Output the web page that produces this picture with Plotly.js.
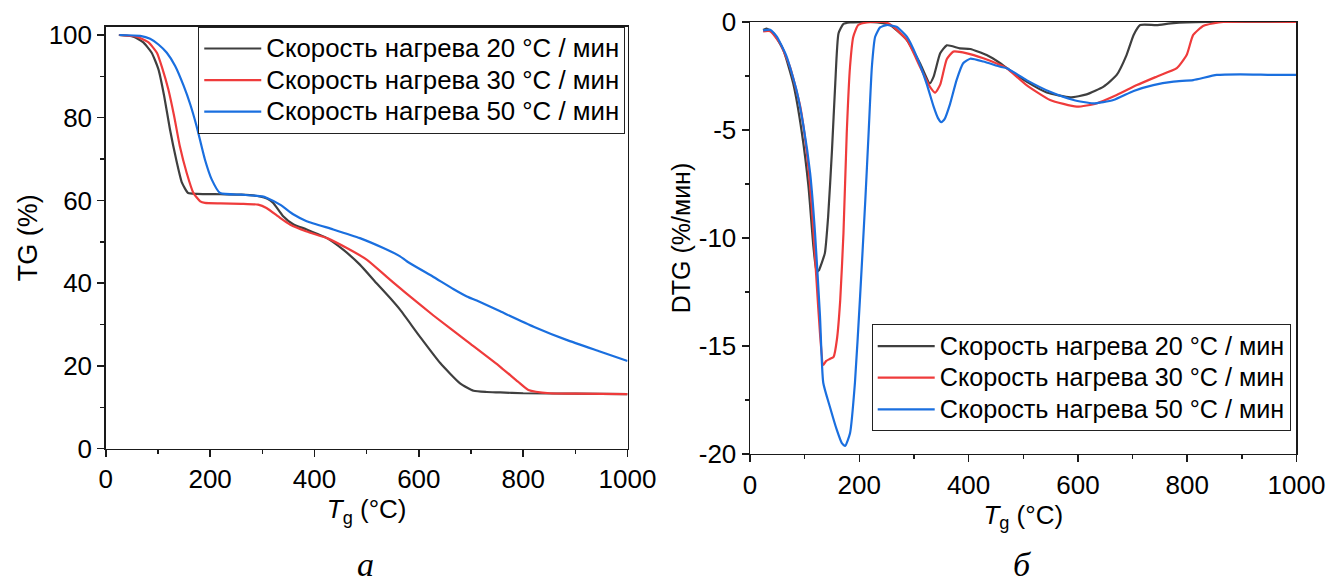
<!DOCTYPE html>
<html>
<head>
<meta charset="utf-8">
<script src="https://cdn.plot.ly/plotly-3.0.1.min.js"></script>
<style>html,body{margin:0;padding:0;background:#fff;}#chart{width:1327px;height:587px;}</style>
</head>
<body>
<div id="chart"></div>
<script>
// ---------- data ----------
var seriesNames = ['Скорость нагрева 20 °C / мин', 'Скорость нагрева 30 °C / мин', 'Скорость нагрева 50 °C / мин'];
var seriesColors = ['#3f3f3f', '#ef3b3b', '#1a6fdf'];

// TG (%) vs T (°C)
var tgT20 = [25,53,72,88,101,112,123,135,146,158,175,220,260,295,310,321,340,360,385,424,455,487,519,545,564,602,641,679,705,730,756,800,900,1000];
var tgV20 = [100,99.6,98.2,95.7,91.7,85.2,77.2,69.9,64.3,61.8,61.6,61.5,61.4,61.0,60.4,59.4,56.2,54.2,53.0,50.9,48.1,44.5,40.0,36.4,33.6,27.1,20.7,15.8,14.0,13.7,13.6,13.4,13.3,13.2];

var tgT30 = [26,59,82,98,109,120,131,142,155,168,181,190,220,260,292,308,334,353,385,424,462,500,538,564,583,628,692,756,790,810,851,900,1000];
var tgV30 = [100,99.6,98.2,95.7,91.7,86.8,80.4,73.1,66.7,61.8,59.8,59.4,59.3,59.2,59.0,58.2,55.8,54.2,52.5,50.9,48.5,45.7,41.6,38.8,36.8,32.2,26.0,19.8,16.2,14.2,13.4,13.3,13.2];

var tgT50 = [26,66,85,101,117,133,149,162,174,190,203,219,260,300,309,334,360,385,436,487,532,564,577,628,666,692,711,756,820,883,947,1000];
var tgV50 = [100,99.8,99.1,97.7,95.7,92.5,87.8,83.2,78.0,69.9,65.1,61.8,61.4,61.0,60.6,59.0,56.6,55.0,53.0,50.9,48.5,46.5,45.3,41.5,38.6,36.8,35.8,33.2,29.5,26.3,23.5,21.2];

// DTG (%/мин) vs T (°C)
var dtgT20 = [24,30,43,61,79,95,107,116,122,126,131,137,143,150,156,162,171,183,220,256,287,311,329,336,348,360,384,403,433,458,470,506,543,586,616,647,671,689,702,714,744,775,836,1000];
var dtgV20 = [-0.37,-0.3,-0.52,-1.30,-2.84,-5.15,-7.62,-10.4,-11.56,-11.5,-11.17,-10.7,-9.0,-5.93,-2.84,-0.52,-0.09,-0.02,0,-0.14,-0.83,-1.91,-2.84,-2.53,-1.45,-1.08,-1.22,-1.25,-1.53,-1.91,-2.14,-2.76,-3.26,-3.49,-3.35,-2.99,-2.45,-1.53,-0.60,-0.14,-0.14,-0.05,0,0];

var dtgT30 = [24,37,55,73,92,104,113,122,128,134,139,146,153,159,165,171,177,183,189,198,214,244,256,287,311,329,339,348,360,372,397,427,458,470,506,549,598,634,671,708,744,781,799,811,830,866,1000];
var dtgV30 = [-0.43,-0.43,-0.99,-2.07,-3.92,-6.08,-8.55,-12.1,-14.41,-15.88,-15.7,-15.6,-15.5,-14.7,-12.9,-9.78,-5.15,-2.07,-0.68,-0.14,-0.02,0,-0.1,-0.83,-2.07,-2.99,-3.27,-2.9,-1.72,-1.37,-1.45,-1.68,-1.99,-2.14,-2.92,-3.61,-3.92,-3.77,-3.38,-2.92,-2.53,-2.14,-1.53,-0.60,-0.17,0,0];

var dtgT50 = [24,37,49,67,85,98,110,119,128,134,146,159,168,174,183,192,201,211,217,223,229,238,250,268,287,305,323,336,344,350,356,366,378,390,403,427,458,470,506,549,592,628,665,702,738,775,811,854,897,958,1000];
var dtgV50 = [-0.39,-0.36,-0.68,-1.6,-3.15,-4.85,-7.0,-9.78,-13.6,-16.7,-17.8,-18.9,-19.5,-19.63,-19.04,-16.7,-12.9,-8.24,-5.15,-2.07,-0.68,-0.25,-0.14,-0.22,-0.68,-1.6,-2.84,-3.92,-4.45,-4.64,-4.5,-3.8,-2.69,-1.91,-1.70,-1.83,-2.07,-2.14,-2.69,-3.23,-3.61,-3.77,-3.61,-3.19,-2.92,-2.76,-2.69,-2.45,-2.42,-2.45,-2.45];

var dtgTickVals = [-20,-15,-10,-5,0];
var dtgTickText = ['-20','-15','-10','-5','0'];

// ---------- chart ----------
var tgX = [tgT20, tgT30, tgT50], tgY = [tgV20, tgV30, tgV50];
var dX = [dtgT20, dtgT30, dtgT50], dY = [dtgV20, dtgV30, dtgV50];
function legName(s, fs) { return '<span style="font-size:' + fs + 'px">' + s + '</span>'; }
var traces = [];
for (var i = 0; i < 3; i++) {
  traces.push({x: tgX[i], y: tgY[i], type: 'scatter', mode: 'lines', name: legName(seriesNames[i], 25.8),
    line: {color: seriesColors[i], width: 2.2, shape: 'spline', smoothing: 0.5},
    xaxis: 'x', yaxis: 'y', legend: 'legend'});
}
for (var j = 0; j < 3; j++) {
  traces.push({x: dX[j], y: dY[j], type: 'scatter', mode: 'lines', name: legName(seriesNames[j], 25.2),
    line: {color: seriesColors[j], width: 2.2, shape: 'spline', smoothing: 0.5},
    xaxis: 'x2', yaxis: 'y2', legend: 'legend2'});
}

var FONT = 'Liberation Sans, Arial, sans-serif';
var axCol = '#1a1a1a';
function ax(extra) {
  var a = {showline: true, mirror: true, linecolor: axCol, linewidth: 1.5,
    ticks: 'outside', ticklen: 7, tickwidth: 1.5, tickcolor: axCol,
    showgrid: false, zeroline: false, automargin: false,
    tickfont: {family: FONT, size: 26, color: '#000'}};
  for (var k in extra) a[k] = extra[k];
  return a;
}
function minor(dt) { return {tickmode: 'linear', tick0: 0, dtick: dt, ticks: 'outside', ticklen: 4, tickwidth: 1.5, tickcolor: axCol, showgrid: false}; }
var xTitle = {text: '<i>T</i><sub>g</sub> (°C)', font: {family: FONT, size: 26, color: '#000'}, standoff: 0};

var layout = {
  width: 1327, height: 587,
  margin: {l: 0, r: 0, t: 0, b: 0},
  paper_bgcolor: '#fff', plot_bgcolor: '#fff',
  font: {family: FONT, color: '#000'},
  xaxis: ax({domain: [0.0797, 0.4729], range: [0, 1000], dtick: 200, tick0: 0, minor: minor(100), anchor: 'y', title: xTitle}),
  yaxis: ax({domain: [0.2356, 0.9545], range: [0, 102], dtick: 20, tick0: 0, minor: minor(10), anchor: 'x',
    title: {text: 'TG (%)', font: {family: FONT, size: 27, color: '#000'}, standoff: 3}}),
  xaxis2: ax({domain: [0.5652, 0.9770], range: [0, 1000], dtick: 200, tick0: 0, minor: minor(100), anchor: 'y2', title: xTitle}),
  yaxis2: ax({domain: [0.2266, 0.9625], range: [-20, 0], tickmode: 'array', tickvals: dtgTickVals, ticktext: dtgTickText,
    minor: minor(2.5), anchor: 'x2',
    title: {text: 'DTG (%/мин)', font: {family: FONT, size: 25, color: '#000'}, standoff: 1}}),
  legend: {x: 0.1494, y: 0.9545, xanchor: 'left', yanchor: 'top', bgcolor: '#fff', bordercolor: '#222', borderwidth: 1,
    font: {family: FONT, size: 22, color: '#000'}, itemwidth: 57, tracegroupgap: 0},
  legend2: {x: 0.6569, y: 0.4475, xanchor: 'left', yanchor: 'top', bgcolor: '#fff', bordercolor: '#222', borderwidth: 1,
    font: {family: FONT, size: 22, color: '#000'}, itemwidth: 57, tracegroupgap: 0},
  annotations: [
    {text: '<i>а</i>', x: 0.2758, y: 0.038, xref: 'paper', yref: 'paper', xanchor: 'center', yanchor: 'middle', showarrow: false,
      font: {family: 'Liberation Serif, Times New Roman, serif', size: 34, color: '#000'}},
    {text: '<i>б</i>', x: 0.7709, y: 0.038, xref: 'paper', yref: 'paper', xanchor: 'center', yanchor: 'middle', showarrow: false,
      font: {family: 'Liberation Serif, Times New Roman, serif', size: 34, color: '#000'}}
  ],
  showlegend: true
};

Plotly.newPlot('chart', traces, layout, {displayModeBar: false, staticPlot: true});
</script>
</body>
</html>
